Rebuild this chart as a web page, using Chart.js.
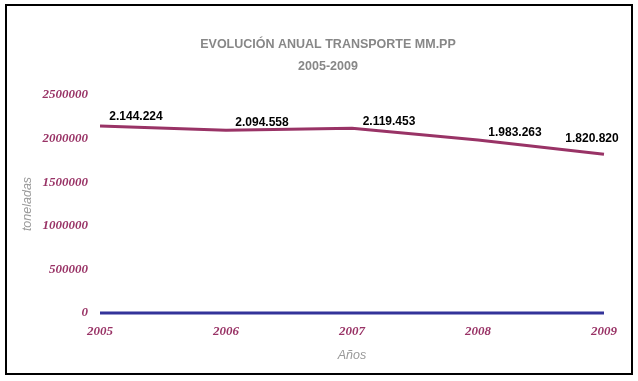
<!DOCTYPE html>
<html>
<head>
<meta charset="utf-8">
<script src="https://cdn.jsdelivr.net/npm/chart.js@4.4.1/dist/chart.umd.min.js"></script>
<style>
body { margin:0; background:#fff; }
#marco { position:absolute; left:5px; top:4px; width:624px; height:367px; border:2px solid #000; }
#grafico { position:absolute; left:0; top:0; }
</style>
</head>
<body>
<canvas id="grafico" width="638" height="381"></canvas>
<div id="marco"></div>
<script>
// Datos del grafico
var anios = ['2005', '2006', '2007', '2008', '2009'];
var toneladas = [2144224, 2094558, 2119453, 1983263, 1820820];
var base = [0, 0, 0, 0, 0];
var ticksY = [0, 500000, 1000000, 1500000, 2000000, 2500000];

// desplazamiento de las etiquetas respecto al punto
var etqDx = [36, 36, 37, 37, -12];
var etqDy = [-9, -8, -6, -7, -16];

function puntos(n) {
	return String(n).replace(/\B(?=(\d{3})+(?!\d))/g, '.');
}

var etiquetas = {
	id: 'etiquetas',
	afterDatasetsDraw: function(chart) {
		var ctx = chart.ctx;
		var meta = chart.getDatasetMeta(0);
		ctx.save();
		ctx.font = 'bold 12px "Liberation Sans", Arial, sans-serif';
		ctx.fillStyle = '#000';
		ctx.textAlign = 'center';
		ctx.textBaseline = 'middle';
		meta.data.forEach(function(p, i) {
			ctx.fillText(puntos(toneladas[i]), p.x + etqDx[i], p.y + etqDy[i]);
		});
		ctx.restore();
	}
};

var rojo = '#993366';
var fuenteTick = { family: '"Liberation Serif", "Times New Roman", serif', size: 13, weight: 'bold', style: 'italic' };

new Chart(document.getElementById('grafico'), {
	type: 'line',
	data: {
		labels: anios,
		datasets: [{
			label: 'MM.PP',
			data: toneladas,
			borderColor: rojo,
			borderWidth: 3,
			pointRadius: 0,
			tension: 0,
			clip: false
		}, {
			label: 'base',
			data: base,
			borderColor: '#333399',
			borderWidth: 3,
			pointRadius: 0,
			clip: false
		}]
	},
	options: {
		responsive: false,
		animation: false,
		layout: { padding: { left: 20, right: 2, top: 6, bottom: 6 } },
		plugins: {
			legend: { display: false },
			tooltip: { enabled: false },
			title: {
				display: true,
				text: ['EVOLUCIÓN ANUAL TRANSPORTE MM.PP', '2005-2009'],
				color: '#878787',
				font: { family: '"Liberation Sans", Arial, sans-serif', size: 12.5, weight: 'bold', lineHeight: 1.76 },
				padding: { top: 28, bottom: 17 }
			}
		},
		scales: {
			x: {
				offset: false,
				grid: { display: false, drawTicks: false },
				border: { display: false },
				ticks: { color: rojo, font: fuenteTick, padding: 11, maxRotation: 0, autoSkip: false },
				title: {
					display: true, text: 'Años', color: '#999999',
					font: { family: '"Liberation Sans", Arial, sans-serif', size: 12.5, style: 'italic' },
					padding: { top: 0, bottom: 12 }
				},
				afterFit: function(s) { s.height = 381 - 6 - 313; }
			},
			y: {
				min: 0,
				max: 2500000,
				grid: { display: false, drawTicks: false },
				border: { display: false },
				afterBuildTicks: function(s) { s.ticks = ticksY.map(function(v) { return { value: v }; }); },
				ticks: {
					color: rojo, font: fuenteTick, padding: 12,
					callback: function(v) { return String(v); }
				},
				title: {
					display: true, text: 'toneladas', color: '#999999',
					font: { family: '"Liberation Sans", Arial, sans-serif', size: 12.5, style: 'italic' },
					padding: { top: 0, bottom: 0 }
				},
				afterFit: function(s) { s.width = 80; }
			},
			yR: {
				type: 'linear',
				position: 'right',
				grid: { display: false },
				border: { display: false },
				ticks: { display: false },
				afterFit: function(s) { s.width = 32; }
			}
		}
	},
	plugins: [etiquetas]
});
</script>
</body>
</html>
